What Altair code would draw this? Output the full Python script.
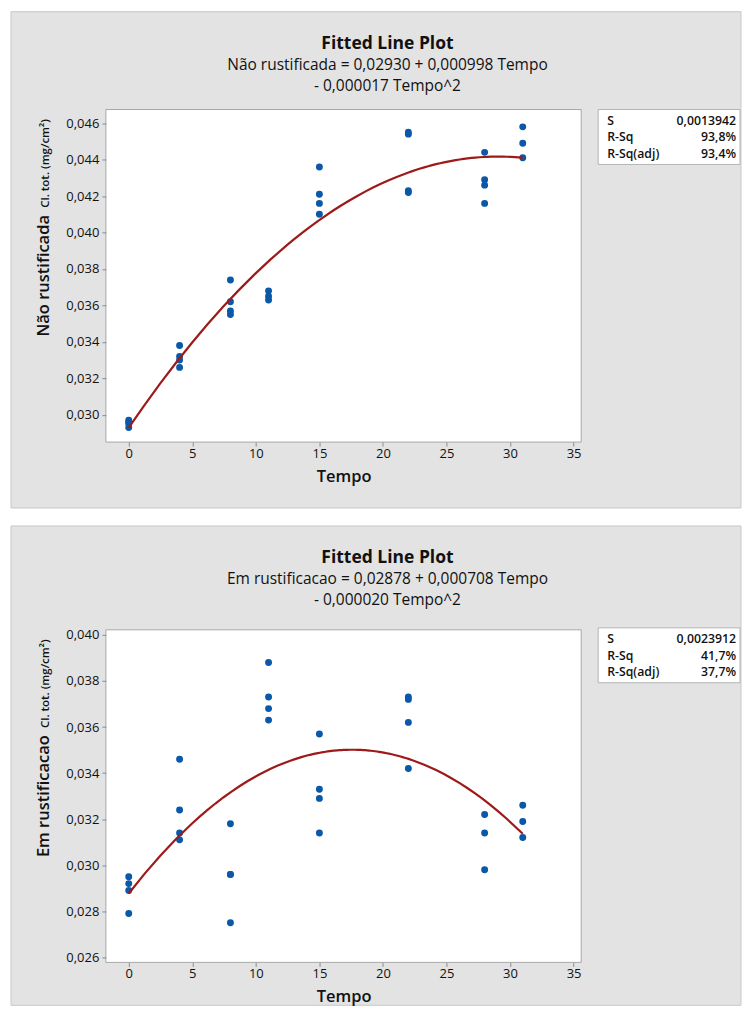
import altair as alt
import pandas as pd

# ---------------- data ----------------
tempo_nao = [0, 0, 0, 0, 4, 4, 4, 4, 8, 8, 8, 8, 11, 11, 11,
             15, 15, 15, 15, 22, 22, 22, 22, 28, 28, 28, 28, 31, 31, 31]
cl_nao = [0.0297, 0.0296, 0.0295, 0.0293,
          0.0338, 0.0332, 0.0330, 0.0326,
          0.0374, 0.0362, 0.0357, 0.0355,
          0.0368, 0.0365, 0.0363,
          0.0436, 0.0421, 0.0416, 0.0410,
          0.0455, 0.0454, 0.0423, 0.0422,
          0.0444, 0.0429, 0.0426, 0.0416,
          0.0458, 0.0449, 0.0441]

tempo_em = [0, 0, 0, 0, 4, 4, 4, 4, 8, 8, 8, 8, 11, 11, 11, 11,
            15, 15, 15, 15, 22, 22, 22, 22, 28, 28, 28, 31, 31, 31]
cl_em = [0.0295, 0.0292, 0.0289, 0.0279,
         0.0346, 0.0324, 0.0314, 0.0311,
         0.0318, 0.0296, 0.0296, 0.0275,
         0.0388, 0.0373, 0.0368, 0.0363,
         0.0357, 0.0333, 0.0329, 0.0314,
         0.0373, 0.0372, 0.0362, 0.0342,
         0.0322, 0.0314, 0.0298,
         0.0326, 0.0319, 0.0312]

x_ticks = [0, 5, 10, 15, 20, 25, 30, 35]
y_ticks_nao = [0.030, 0.032, 0.034, 0.036, 0.038, 0.040, 0.042, 0.044, 0.046]
y_ticks_em = [0.026, 0.028, 0.030, 0.032, 0.034, 0.036, 0.038, 0.040]

stats_labels = ["S", "R-Sq", "R-Sq(adj)"]
stats_nao = ["0,0013942", "93,8%", "93,4%"]
stats_em = ["0,0023912", "41,7%", "37,7%"]

eq_nao = ["Não rustificada = 0,02930 + 0,000998 Tempo", "- 0,000017 Tempo^2"]
eq_em = ["Em rustificacao = 0,02878 + 0,000708 Tempo", "- 0,000020 Tempo^2"]

# ---------------- style ----------------
FONT = "Open Sans"
W, H = 476, 333
GRAY = "#E3E3E3"
PT = "#0A58A8"
LN = "#9E1A1A"
one = pd.DataFrame({"k": [0]})


def txt(s, x, y, size, weight="normal", align="center", baseline="alphabetic", angle=0):
    kw = dict(text=s, fontSize=size, fontWeight=weight, align=align,
              baseline=baseline, font=FONT, color="#111111")
    if angle:
        kw["angle"] = angle
    return alt.Chart(one).mark_text(**kw).encode(x=alt.value(x), y=alt.value(y))


def rect(x, x2, y, y2, fill, stroke):
    return alt.Chart(one).mark_rect(fill=fill, stroke=stroke, strokeWidth=1).encode(
        x=alt.value(x), x2=alt.value(x2), y=alt.value(y), y2=alt.value(y2))


def panel(tempo, cl, ydom, yticks, ybig, eq, stats, top, bottom, box_top):
    df = pd.DataFrame({"Tempo": tempo, "Cl": cl})
    xs = alt.Scale(domain=[-1.8, 35.6], nice=False, zero=False)
    ys = alt.Scale(domain=ydom, nice=False, zero=False)
    xa = alt.Axis(values=x_ticks, title="Tempo", grid=False, domain=False,
                  tickSize=4, tickColor="#8C8C8C", labelFontSize=13, labelColor="#111111",
                  labelPadding=1, titleFontSize=16.5, titleFontWeight=600,
                  titleColor="#111111", titlePadding=8, zindex=1, labelFont=FONT,
                  titleFont=FONT)
    ya = alt.Axis(values=yticks, title=None, grid=False, domain=False,
                  tickSize=4, tickColor="#8C8C8C", labelFontSize=13, labelColor="#111111",
                  labelPadding=3, zindex=1, labelFont=FONT,
                  labelExpr="replace(format(datum.value, '.3f'), '.', ',')")
    enc = dict(x=alt.X("Tempo:Q", scale=xs, axis=xa), y=alt.Y("Cl:Q", scale=ys, axis=ya))

    bg = rect(-95, 636, top, bottom, GRAY, "#C8C8C8")
    plotbg = rect(0, W, 0, H, "white", "#A8A8A8")
    pts = alt.Chart(df).mark_circle(size=48, color=PT, opacity=1).encode(**enc)
    line = (alt.Chart(df)
            .transform_regression("Tempo", "Cl", method="poly", order=2, extent=[0, 31])
            .mark_line(color=LN, strokeWidth=2.2).encode(**enc))

    box = rect(493, 635, box_top, box_top + 55, "white", "#B4B4B4")
    layers = [bg, plotbg, pts, line, box]
    for i, (lab, val) in enumerate(zip(stats_labels, stats)):
        ry = box_top + 15.5 + i * 16.3
        layers.append(txt(lab, 502, ry, 12.3, 600, align="left"))
        layers.append(txt(val, 631, ry, 12.3, 600, align="right"))

    tb = top + 37.5
    layers.append(txt("Fitted Line Plot", 282, tb, 17.5, "bold"))
    layers.append(txt(eq[0], 282, tb + 20.7, 15.5))
    layers.append(txt(eq[1], 282, tb + 41.7, 15.5))
    layers.append(txt(ybig, -57, H / 2, 16.5, 600, angle=270))
    layers.append(txt("Cl. tot. (mg/cm²)", -57, 54, 11.5, 600, angle=270))
    return alt.layer(*layers).properties(width=W, height=H)


top_chart = panel(tempo_nao, cl_nao, [0.0285, 0.04675], y_ticks_nao, "Não rustificada",
                  eq_nao, stats_nao, -98, 399, 0)
bot_chart = panel(tempo_em, cl_em, [0.02578, 0.04022], y_ticks_em, "Em rustificacao",
                  eq_em, stats_em, -104, 376, -2)

chart = (alt.vconcat(top_chart, bot_chart, spacing=16)
         .properties(padding={"left": 2, "top": 2, "right": 0, "bottom": 0})
         .configure(font=FONT, background="white")
         .configure_view(stroke=None))

chart.save("out.html", embed_options={"renderer": "svg", "actions": False})
